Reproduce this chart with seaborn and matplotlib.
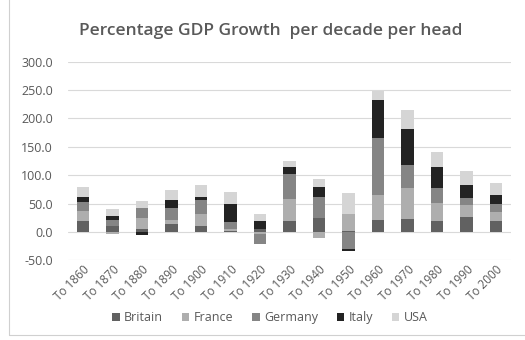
import numpy as np
import pandas as pd
import matplotlib
matplotlib.use("Agg")
import matplotlib.pyplot as plt
from matplotlib.patches import Patch, Rectangle
import seaborn as sns

# Percentage GDP growth per decade per head, by country
categories = ["To 1860", "To 1870", "To 1880", "To 1890", "To 1900", "To 1910",
              "To 1920", "To 1930", "To 1940", "To 1950", "To 1960", "To 1970",
              "To 1980", "To 1990", "To 2000"]
britain = [19, 10, 5, 14, 10, 2, 5, 19, 25, 1, 22, 23, 20, 26, 20]
france = [18, -4, 19, 8, 22, 4, -3, 39, -10, 31, 43, 55, 31, 22, 15]
germany = [15, 11, 18, 21, 24, 12, -18, 44, 37, -30, 100, 40, 27, 11, 15]
italy = [9, 8, -5, 14, 6, 31, 14, 12, 18, -3, 68, 64, 37, 24, 16]
usa = [19, 11, 12, 17, 21, 21, 12, 11, 13, 36, 15, 33, 25, 25, 21]

series_names = ["Britain", "France", "Germany", "Italy", "USA"]
series_values = [britain, france, germany, italy, usa]
colors = ["#616161", "#aeaeae", "#858585", "#232323", "#d5d5d5"]
text_color = "#595959"

sns.set_theme(style="white")
plt.rcParams["font.family"] = ["Open Sans", "DejaVu Sans"]

fig = plt.figure(figsize=(5.25, 3.4), dpi=100)
ax = fig.add_axes([0.13, 0.234, 0.843, 0.585])

vals = np.array(series_values, dtype=float)
pos_cum = np.cumsum(np.clip(vals, 0, None), axis=0)
neg_cum = np.cumsum(np.clip(vals, None, 0), axis=0)

# Stacked bars: cumulative totals drawn from the last series down to the first
for cum in (pos_cum, neg_cum):
    for i in range(len(series_names) - 1, -1, -1):
        df = pd.DataFrame({"period": categories, "value": cum[i]})
        sns.barplot(data=df, x="period", y="value", color=colors[i],
                    width=0.42, linewidth=0, saturation=1, ax=ax,
                    order=categories, zorder=3)

ax.set_ylim(-50, 300)
ax.set_xlim(-0.5, len(categories) - 0.5)
ax.set_yticks(np.arange(-50, 301, 50))
ax.set_yticklabels([f"{v:.1f}" for v in np.arange(-50, 301, 50)])
ax.yaxis.grid(True, color="#d9d9d9", linewidth=0.8, zorder=0)
ax.set_axisbelow(True)
for s in ax.spines.values():
    s.set_visible(False)
ax.set_xlabel("")
ax.set_ylabel("")
ax.tick_params(axis="y", length=0, labelsize=9, labelcolor=text_color, pad=11)
ax.tick_params(axis="x", length=0, labelsize=8.5, labelcolor=text_color, pad=2)
for lbl in ax.get_xticklabels():
    lbl.set_rotation(45)
    lbl.set_ha("right")
    lbl.set_va("top")
    lbl.set_rotation_mode("anchor")

fig.text(0.515, 0.908, "Percentage GDP Growth  per decade per head",
         ha="center", va="center", fontsize=12.5, fontweight="semibold",
         color=text_color)

handles = [Patch(facecolor=c, edgecolor="none", label=n)
           for n, c in zip(series_names, colors)]
fig.legend(handles=handles, loc="center", bbox_to_anchor=(0.514, 0.065),
           ncol=5, frameon=False, fontsize=9, handlelength=0.6,
           handleheight=0.6, handletextpad=0.35, columnspacing=1.5,
           labelcolor=text_color)

# chart area border
fig.patches.append(Rectangle((9 / 525, 5 / 340), 1.2, 1.2, transform=fig.transFigure,
                             fill=False, edgecolor="#d0d0d0", linewidth=0.8))

fig.savefig("out.png", dpi=100)
